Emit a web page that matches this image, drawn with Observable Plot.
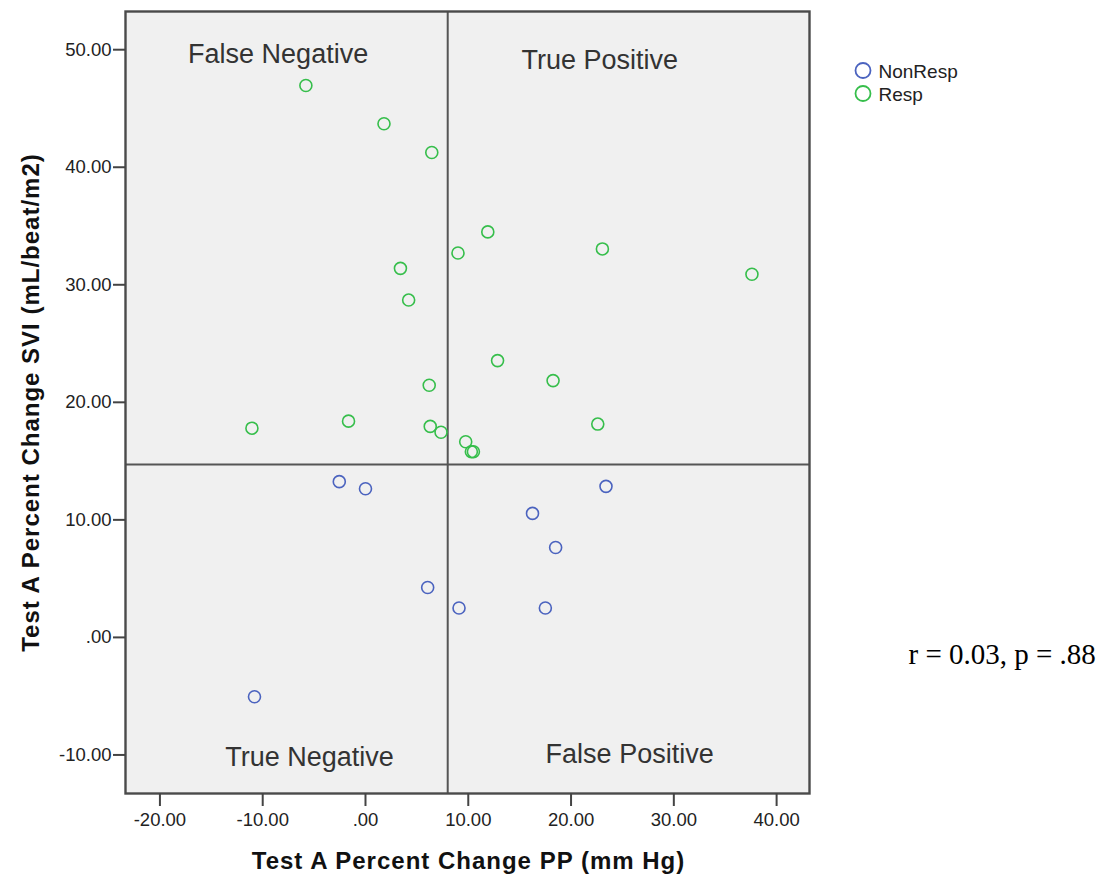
<!DOCTYPE html>
<html>
<head>
<meta charset="utf-8">
<script src="https://cdn.jsdelivr.net/npm/d3@7"></script>
<script src="https://cdn.jsdelivr.net/npm/@observablehq/plot@0.6"></script>
<style>
  html, body { margin: 0; padding: 0; background: #fff; }
  #chart { width: 1120px; height: 877px; }
</style>
</head>
<body>
<div id="chart"></div>
<script>
// ---- data ----
const groups = ["NonResp", "Resp"];
const groupColors = ["#4B63BF", "#36BE4B"];

const respX = [-5.8, 1.8, 6.45, 3.4, 4.2, 11.9, 9.0, 23.05, 37.6, 6.2, -11.05, -1.65, 6.3, 7.35, 12.85, 18.25, 9.75, 10.3, 10.5, 22.6];
const respY = [46.95, 43.7, 41.25, 31.4, 28.7, 34.5, 32.7, 33.05, 30.9, 21.45, 17.8, 18.4, 17.95, 17.45, 23.55, 21.85, 16.65, 15.8, 15.8, 18.15];

const nonRespX = [-2.55, 0.0, 6.05, 23.4, 16.25, 18.5, 9.1, 17.5, -10.8];
const nonRespY = [13.25, 12.65, 4.25, 12.85, 10.55, 7.65, 2.5, 2.5, -5.05];

const cutX = 8;      // cut-off on Test A Percent Change PP
const cutY = 14.7;   // cut-off on Test A Percent Change SVI

const yTicks = [-10, 0, 10, 20, 30, 40, 50];
const xTicks = [-20, -10, 0, 10, 20, 30, 40];

const quadrantLabels = ["False Negative", "True Positive", "True Negative", "False Positive"];
const quadrantX = [-8.5, 22.8, -5.45, 25.7];
const quadrantY = [48.9, 48.4, -10.9, -10.7];

const xLabel = "Test A Percent Change PP (mm Hg)";
const yLabel = "Test A Percent Change SVI (mL/beat/m2)";
const statText = "r = 0.03, p = .88";

// ---- build tables ----
const points = [
  ...nonRespX.map((x, i) => ({x, y: nonRespY[i], group: "NonResp"})),
  ...respX.map((x, i) => ({x, y: respY[i], group: "Resp"}))
];
const quads = quadrantLabels.map((t, i) => ({t, x: quadrantX[i], y: quadrantY[i]}));

const fmt = d => d === 0 ? ".00" : d.toFixed(2);
const sans = "'Liberation Sans', Arial, sans-serif";

const plot = Plot.plot({
  width: 1120,
  height: 877,
  marginLeft: 125,
  marginRight: 311,
  marginTop: 11,
  marginBottom: 84,
  style: {fontFamily: sans, color: "#333", background: "#fff", overflow: "visible"},
  x: {domain: [-23.35, 43.2]},
  y: {domain: [-13.28, 53.25]},
  color: {domain: groups, range: groupColors},
  marks: [
    Plot.frame({fill: "#f0f0f0", stroke: null}),
    Plot.ruleX([cutX], {stroke: "#555", strokeWidth: 2}),
    Plot.ruleY([cutY], {stroke: "#555", strokeWidth: 2}),
    Plot.dot(points, {x: "x", y: "y", stroke: "group", r: 6, strokeWidth: 1.6}),
    Plot.text(quads, {x: "x", y: "y", text: "t", fontSize: 27, fill: "#333", lineAnchor: "bottom", textAnchor: "middle"}),
    Plot.frame({stroke: "#4a4a4a", strokeWidth: 2.4}),
    Plot.axisY(yTicks, {tickFormat: fmt, tickSize: 12, tickPadding: 2, fontSize: 18.5, strokeWidth: 2, stroke: "#444", fill: "#222", label: null}),
    Plot.axisX(xTicks, {tickFormat: fmt, tickSize: 13, tickPadding: 6, fontSize: 18.5, strokeWidth: 2, stroke: "#444", fill: "#222", label: null}),
    Plot.text([yLabel], {frameAnchor: "left", dx: -87, rotate: -90, text: d => d, fontSize: 24, fontWeight: "bold", fill: "#111", lineAnchor: "bottom", textAnchor: "middle"}),
    Plot.text([xLabel], {frameAnchor: "bottom", dx: 1, dy: 75, text: d => d, fontSize: 24, fontWeight: "bold", fill: "#111", lineAnchor: "bottom", textAnchor: "middle"}),
    ...groups.map((g, i) => Plot.dot([g], {frameAnchor: "top-right", dx: 53.5, dy: 59 + 23 * i, stroke: d => d, r: 7.5, strokeWidth: 1.8})),
    ...groups.map((g, i) => Plot.text([g], {frameAnchor: "top-right", dx: 69, dy: 60 + 23 * i, text: d => d, fontSize: 19, fill: "#222", textAnchor: "start", lineAnchor: "middle"})),
    Plot.text([statText], {frameAnchor: "top-right", dx: 99, dy: 652, text: d => d, fontSize: 29, fontFamily: "'Liberation Serif', 'Times New Roman', serif", fill: "#000", textAnchor: "start", lineAnchor: "bottom"})
  ]
});

document.getElementById("chart").appendChild(plot);

// letter spacing for the bold axis titles (matches the reference's looser setting)
d3.select(plot).selectAll("text").filter(function() {
  const t = this.textContent;
  return t === xLabel || t === yLabel;
}).attr("letter-spacing", "1px");
</script>
</body>
</html>
